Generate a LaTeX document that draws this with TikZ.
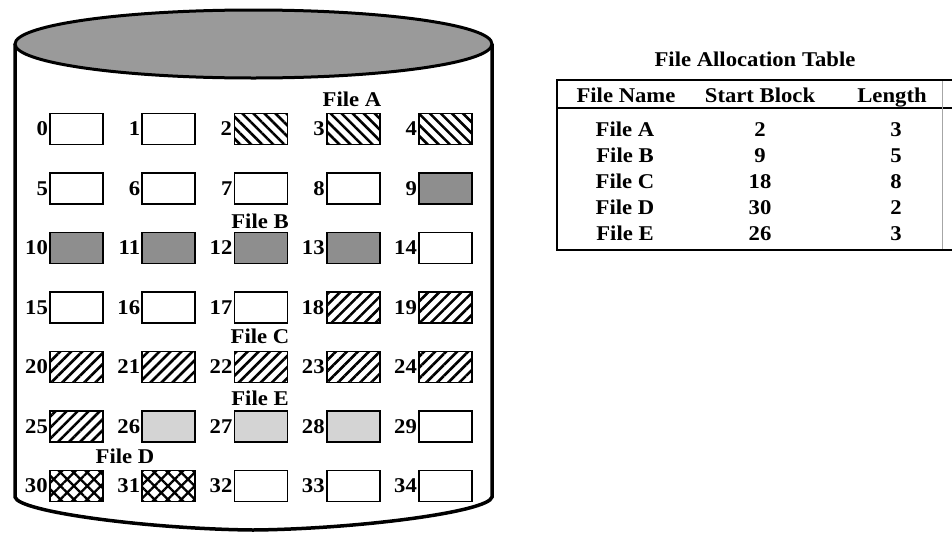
\documentclass[tikz,border=0pt]{standalone}
\usepackage{fontspec}
\setmainfont{Liberation Serif}[FakeStretch=1.08]
\usetikzlibrary{patterns.meta}
\definecolor{topgray}{HTML}{9A9A9A}
\definecolor{filebgray}{HTML}{8E8E8E}
\definecolor{fileegray}{HTML}{D4D4D4}
\newcommand\diskblock[2]{%
  \pgfmathtruncatemacro\rr{#1/5}%
  \pgfmathtruncatemacro\cc{#1-5*\rr}%
  \node[blk,#2] (b#1) at ({76.5+92.25*\cc},{-129-59.5*\rr}) {};
  \node[lbl,anchor=east] (n#1) at ([xshift=-1pt]b#1.west) {#1};
}
\begin{document}
\begin{tikzpicture}[x=1pt,y=1pt,
  lbl/.style={font=\fontsize{21}{24}\selectfont\bfseries, inner sep=0pt},
  blk/.style={draw, line width=1.8pt, minimum width=53pt, minimum height=31pt, inner sep=0pt},
  free/.style={fill=white},
  filea/.style={pattern={Lines[angle=-45,distance=7.8pt,line width=2.6pt]}},
  fileb/.style={fill=filebgray},
  filec/.style={pattern={Lines[angle=45,distance=7.8pt,line width=2.6pt]}},
  filed/.style={pattern={Hatch[angle=45,distance=9.5pt,line width=2.3pt]}},
  filee/.style={fill=fileegray},
  tline/.style={line width=2.5pt},
  tcell/.style={lbl, anchor=base},
]
\useasboundingbox (0,0) rectangle (952,-533);
% cylinder
\draw[line width=3.5pt] (15,-44) -- (15,-497)
  .. controls (18,-512) and (150,-529) .. (253,-530)
  .. controls (356,-529) and (489,-512) .. (492,-497) -- (492,-44);
\draw[line width=3pt, fill=topgray] (253.5,-44) ellipse [x radius=238.5, y radius=34];
% blocks
\foreach \i in {0,1,5,6,7,8,14,15,16,17,29,32,33,34} {\diskblock{\i}{free}}
\foreach \i in {2,3,4} {\diskblock{\i}{filea}}
\foreach \i in {9,10,11,12,13} {\diskblock{\i}{fileb}}
\foreach \i in {18,19,20,21,22,23,24,25} {\diskblock{\i}{filec}}
\foreach \i in {30,31} {\diskblock{\i}{filed}}
\foreach \i in {26,27,28} {\diskblock{\i}{filee}}
% file labels
\node[lbl] (la) at (352,-99) {File A};
\node[lbl] (lb) at (260,-221) {File B};
\node[lbl] (lc) at (260,-336) {File C};
\node[lbl] (le) at (260,-398) {File E};
\node[lbl] (ld) at (125,-456) {File D};
% table
\node[tcell] (ttl) at (755,-66) {File Allocation Table};
\draw[tline] (952,-80) -- (557,-80) -- (557,-250) -- (952,-250);
\draw[tline] (557,-108) -- (952,-108);
\draw[line width=0.8pt, black!35] (942,-81) -- (942,-249);
\node[tcell] (h1) at (626,-102) {File Name};
\node[tcell] (h2) at (760,-102) {Start Block};
\node[tcell] (h3) at (892,-102) {Length};
\foreach \n/\s/\l [count=\k from 0] in {A/2/3, B/9/5, C/18/8, D/30/2, E/26/3} {
  \node[tcell] (fn\n) at (625,{-136-26*\k}) {File \n};
  \node[tcell] (sb\n) at (760,{-136-26*\k}) {\s};
  \node[tcell] (ln\n) at (896,{-136-26*\k}) {\l};
}
\end{tikzpicture}
\end{document}
